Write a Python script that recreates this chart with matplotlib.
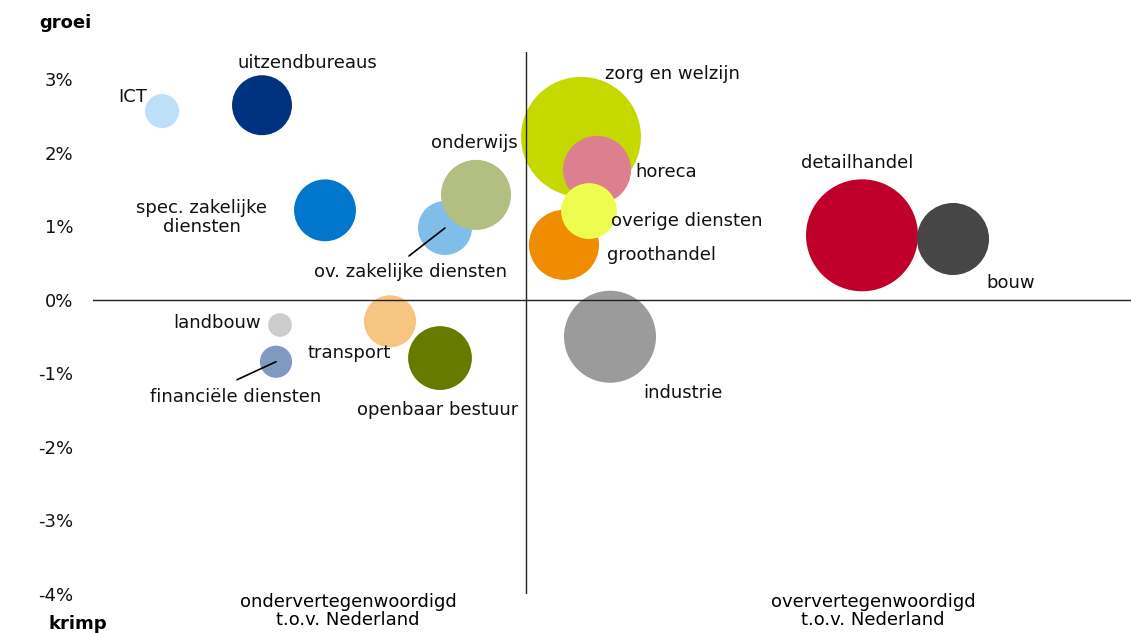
import matplotlib
matplotlib.use('Agg')
import matplotlib.pyplot as plt

# sectors: x = relative share vs NL, y = employment growth (%), size = bubble size
sectors = ['ICT', 'uitzendbureaus', 'spec. zakelijke\ndiensten', 'ov. zakelijke diensten',
           'onderwijs', 'zorg en welzijn', 'horeca', 'groothandel', 'overige diensten',
           'detailhandel', 'bouw', 'industrie', 'landbouw', 'financiële diensten',
           'transport', 'openbaar bestuur']
x_share = [-0.364, -0.264, -0.201, -0.081, -0.050, 0.055, 0.071, 0.038, 0.063,
           0.336, 0.427, 0.084, -0.246, -0.250, -0.136, -0.086]
y_growth = [2.57, 2.65, 1.22, 0.98, 1.43, 2.22, 1.77, 0.75, 1.21,
            0.88, 0.83, -0.50, -0.34, -0.84, -0.29, -0.79]
size = [2.9, 9.0, 9.6, 7.3, 12.3, 36.0, 11.6, 12.3, 7.8,
        31.4, 13.0, 21.2, 1.4, 2.6, 6.8, 10.2]
colors = ['#BDE0F8', '#00337F', '#0077CC', '#80BDE8', '#B3BE82', '#C5D800', '#DC8090',
          '#F08C00', '#EEFC50', '#BE002A', '#464646', '#9B9B9B', '#CCCCCC', '#7F99C0',
          '#F7C582', '#677A00']
yticks = [-4, -3, -2, -1, 0, 1, 2, 3]

# label offsets in pixels (y up) from bubble centre
label_off = [(-29, 14), (45, 42), (-123, -7), (-35, -44), (-2, 52), (91, 63), (69, -2),
             (98, -10), (98, -10), (-5, 72), (58, -44), (73, -56), (-63, 2), (-40, -35),
             (-41, -32), (-2, -52)]
leaders = {'ov. zakelijke diensten': (-36, -28), 'financiële diensten': (-39, -18)}

W, H = 1131, 633
FS = 13
fig = plt.figure(figsize=(W / 100, H / 100), dpi=100)
ax = fig.add_axes([93 / W, 39 / H, (W - 93) / W, (594 - 52) / H])
ax.set_xlim(-0.433, 0.605)
ax.set_ylim(-4, 3.374)

px2pt = 0.72
for i, name in enumerate(sectors):
    ax.scatter(x_share[i], y_growth[i], s=size[i] * 207, color=colors[i],
               edgecolors='none', zorder=2 + i * 0.01)

ax.axhline(0, color='#222222', lw=1, zorder=5)
ax.axvline(0, color='#222222', lw=1, zorder=5)

for i, name in enumerate(sectors):
    dx, dy = label_off[i]
    ax.annotate(name, (x_share[i], y_growth[i]), xytext=(dx * px2pt, dy * px2pt),
                textcoords='offset points', ha='center', va='center',
                fontsize=FS, color='#111111', zorder=6, linespacing=1.1)
    if name in leaders:
        lx, ly = leaders[name]
        ax.annotate('', (x_share[i], y_growth[i]), xytext=(lx * px2pt, ly * px2pt),
                    textcoords='offset points',
                    arrowprops=dict(arrowstyle='-', color='black', lw=1.2,
                                    shrinkA=0, shrinkB=0), zorder=6)

for s in ax.spines.values():
    s.set_visible(False)
ax.set_xticks([])
ax.set_yticks(yticks)
ax.set_yticklabels(['%d%%' % t for t in yticks], fontsize=FS, color='#111111')
ax.tick_params(axis='y', length=0, pad=14)

fig.text(65 / W, 1 - 23 / H, 'groei', fontsize=FS, fontweight='bold',
         ha='center', va='center')
fig.text(78 / W, 1 - 624 / H, 'krimp', fontsize=FS, fontweight='bold',
         ha='center', va='center')
fig.text(348 / W, 1 - 611 / H, 'ondervertegenwoordigd\nt.o.v. Nederland', fontsize=FS,
         ha='center', va='center', linespacing=1.0)
fig.text(873 / W, 1 - 611 / H, 'oververtegenwoordigd\nt.o.v. Nederland', fontsize=FS,
         ha='center', va='center', linespacing=1.0)

fig.savefig('out.png', dpi=100)
